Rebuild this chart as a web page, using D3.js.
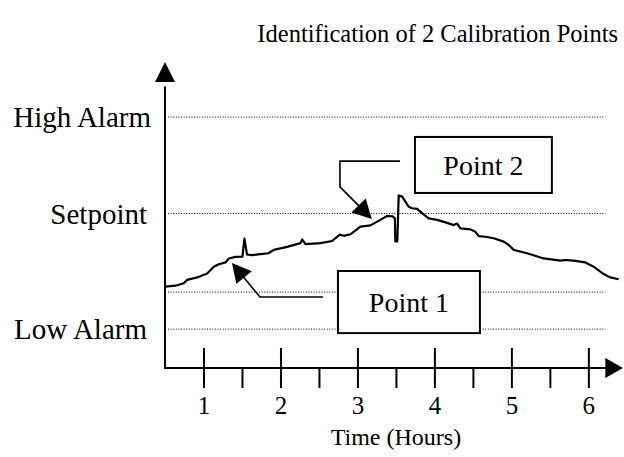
<!DOCTYPE html>
<html>
<head>
<meta charset="utf-8">
<script src="https://cdn.jsdelivr.net/npm/d3@7"></script>
<style>
  body { margin: 0; background: #fff; }
  svg { display: block; }
  text { font-family: "Liberation Serif", "Times New Roman", serif; fill: #000; }
</style>
</head>
<body>
<svg id="chart" width="624" height="457"></svg>
<script>
// Process reading over time (hours) against the alarm / setpoint levels
const hours = [0.506, 0.636, 0.744, 0.788, 0.918, 1.048, 1.134, 1.199, 1.286, 1.329, 1.416, 1.506,
  1.532, 1.565, 1.632, 1.740, 1.844, 1.913, 2.087, 2.260, 2.282, 2.325, 2.519, 2.671, 2.770,
  2.822, 2.909, 3.039, 3.169, 3.299, 3.386, 3.451, 3.487, 3.492, 3.518, 3.536, 3.581, 3.666, 3.710,
  3.775, 3.840, 3.926, 4.035, 4.143, 4.251, 4.295, 4.338, 4.468, 4.532, 4.575, 4.662, 4.770,
  4.900, 4.965, 5.030, 5.204, 5.419, 5.636, 5.701, 5.809, 5.961, 6.069, 6.199, 6.286, 6.394];
const readings = [26.6, 26.9, 27.7, 28.8, 29.6, 30.9, 33.1, 33.9, 34.5, 35.8, 36.3, 36.4,
  42.3, 37.1, 36.9, 37.2, 37.5, 38.6, 39.6, 40.8, 42.0, 40.5, 40.8, 41.5, 43.6,
  43.2, 43.7, 46.2, 46.6, 48.4, 49.7, 49.6, 48.9, 41.4, 41.4, 56.4, 56.0, 52.7, 52.2,
  52.0, 50.6, 48.9, 48.4, 47.6, 46.7, 47.2, 45.6, 45.3, 44.5, 43.1, 42.9, 42.4,
  41.3, 40.2, 38.6, 37.5, 35.8, 35.1, 35.3, 35.1, 34.5, 33.1, 30.7, 29.6, 29.0];

// Reference levels (dotted lines); the unnamed one is an unlabelled guide line
const levelNames = ["High Alarm", "Setpoint", "", "Low Alarm"];
const levelValues = [82, 50.5, 24.8, 12.7];

// Time axis ticks
const majorHours = [1, 2, 3, 4, 5, 6];
const majorLabels = ["1", "2", "3", "4", "5", "6"];
const minorHours = [1.5, 2.5, 3.5, 4.5, 5.5];

// Calibration point call-outs (all in hours / reading units)
const calloutLabels = ["Point 1", "Point 2"];
const calloutTipHours = [1.370, 3.188];
const calloutTipValues = [34.3, 48.7];
const calloutLeaderHours = [[2.552, 1.734], [3.552, 2.773, 2.773]];
const calloutLeaderValues = [[23.2, 23.2], [67.6, 67.6, 59.2]];
const calloutBoxHours = [[2.747, 4.591], [3.747, 5.526]];
const calloutBoxValues = [[31.7, 11.4], [75.5, 57.2]];

const title = "Identification of 2 Calibration Points";
const xTitle = "Time (Hours)";

const svg = d3.select("#chart");
const x = d3.scaleLinear().domain([0.5, 6.45]).range([165, 623]);
const y = d3.scaleLinear().domain([0, 100]).range([368, 62]);

const axisX0 = x(0.5), axisY0 = y(0);

// Dotted reference lines
svg.append("g").selectAll("line")
  .data(levelValues)
  .join("line")
  .attr("x1", x(0.54)).attr("x2", x(6.22))
  .attr("y1", d => y(d)).attr("y2", d => y(d))
  .attr("stroke", "#000").attr("stroke-width", 1)
  .attr("stroke-dasharray", "1,1.6");

// Level labels
svg.append("g").selectAll("text")
  .data(levelNames.map((n, i) => ({ n, v: levelValues[i] })).filter(d => d.n))
  .join("text")
  .attr("x", d => d.n === "High Alarm" ? axisX0 - 14 : axisX0 - 18)
  .attr("y", d => y(d.v))
  .attr("dy", "0.35em")
  .attr("text-anchor", "end")
  .attr("font-size", 29)
  .text(d => d.n);

// Reading trace
const line = d3.line().x(d => x(d[0])).y(d => y(d[1]));
svg.append("path")
  .datum(hours.map((h, i) => [h, readings[i]]))
  .attr("d", line)
  .attr("fill", "none")
  .attr("stroke", "#000")
  .attr("stroke-width", 2.2)
  .attr("stroke-linejoin", "round");

// Axes with arrow heads
svg.append("line")
  .attr("x1", axisX0).attr("x2", axisX0)
  .attr("y1", axisY0 + 1).attr("y2", y(92))
  .attr("stroke", "#000").attr("stroke-width", 2);
svg.append("path")
  .attr("d", `M${axisX0},${y(100)} L${axisX0 - 10},${y(93.5)} L${axisX0 + 10},${y(93.5)} Z`)
  .attr("fill", "#000");

svg.append("line")
  .attr("x1", axisX0 - 1).attr("x2", x(6.25))
  .attr("y1", axisY0).attr("y2", axisY0)
  .attr("stroke", "#000").attr("stroke-width", 2);
svg.append("path")
  .attr("d", `M${x(6.45)},${axisY0} L${x(6.22)},${axisY0 - 10} L${x(6.22)},${axisY0 + 10} Z`)
  .attr("fill", "#000");

// Major ticks cross the axis, minor ticks hang below it
const axis = svg.append("g").attr("transform", `translate(0,${axisY0})`)
  .call(d3.axisBottom(x).tickValues(majorHours).tickFormat((d, i) => majorLabels[i]).tickSize(20).tickPadding(8));
axis.select(".domain").remove();
axis.selectAll(".tick line").attr("y1", -20).attr("stroke", "#000").attr("stroke-width", 2);
axis.selectAll(".tick text")
  .attr("font-family", "Liberation Serif, Times New Roman, serif")
  .attr("font-size", 25).attr("fill", "#000");

const minor = svg.append("g").attr("transform", `translate(0,${axisY0})`)
  .call(d3.axisBottom(x).tickValues(minorHours).tickFormat("").tickSize(20));
minor.select(".domain").remove();
minor.selectAll(".tick line").attr("stroke", "#000").attr("stroke-width", 2);

// Titles
svg.append("text")
  .attr("x", 618).attr("y", 33).attr("dy", "0.35em")
  .attr("text-anchor", "end").attr("font-size", 24.5)
  .text(title);
svg.append("text")
  .attr("x", x(3.5)).attr("y", 445)
  .attr("text-anchor", "middle").attr("font-size", 24)
  .text(xTitle);

// Call-outs: leader line, filled arrow head, boxed label
calloutLabels.forEach((label, i) => {
  const pts = calloutLeaderHours[i].map((h, j) => [x(h), y(calloutLeaderValues[i][j])]);
  const tip = [x(calloutTipHours[i]), y(calloutTipValues[i])];
  const last = pts[pts.length - 1];
  const dx = tip[0] - last[0], dy = tip[1] - last[1];
  const len = Math.hypot(dx, dy);
  const ux = dx / len, uy = dy / len;
  const head = 19, half = 10;
  const bx = tip[0] - ux * head, by = tip[1] - uy * head;

  svg.append("path")
    .attr("d", d3.line()([...pts, [bx + ux * 2, by + uy * 2]]))
    .attr("fill", "none").attr("stroke", "#000").attr("stroke-width", 1.6);
  svg.append("path")
    .attr("d", `M${tip[0]},${tip[1]} L${bx - uy * half},${by + ux * half} L${bx + uy * half},${by - ux * half} Z`)
    .attr("fill", "#000");

  const bx0 = x(calloutBoxHours[i][0]), bx1 = x(calloutBoxHours[i][1]);
  const by0 = y(calloutBoxValues[i][0]), by1 = y(calloutBoxValues[i][1]);
  svg.append("rect")
    .attr("x", bx0).attr("y", by0)
    .attr("width", bx1 - bx0).attr("height", by1 - by0)
    .attr("fill", "#fff").attr("stroke", "#000").attr("stroke-width", 2);
  svg.append("text")
    .attr("x", (bx0 + bx1) / 2).attr("y", (by0 + by1) / 2).attr("dy", "0.35em")
    .attr("text-anchor", "middle").attr("font-size", 28)
    .text(label);
});
</script>
</body>
</html>
